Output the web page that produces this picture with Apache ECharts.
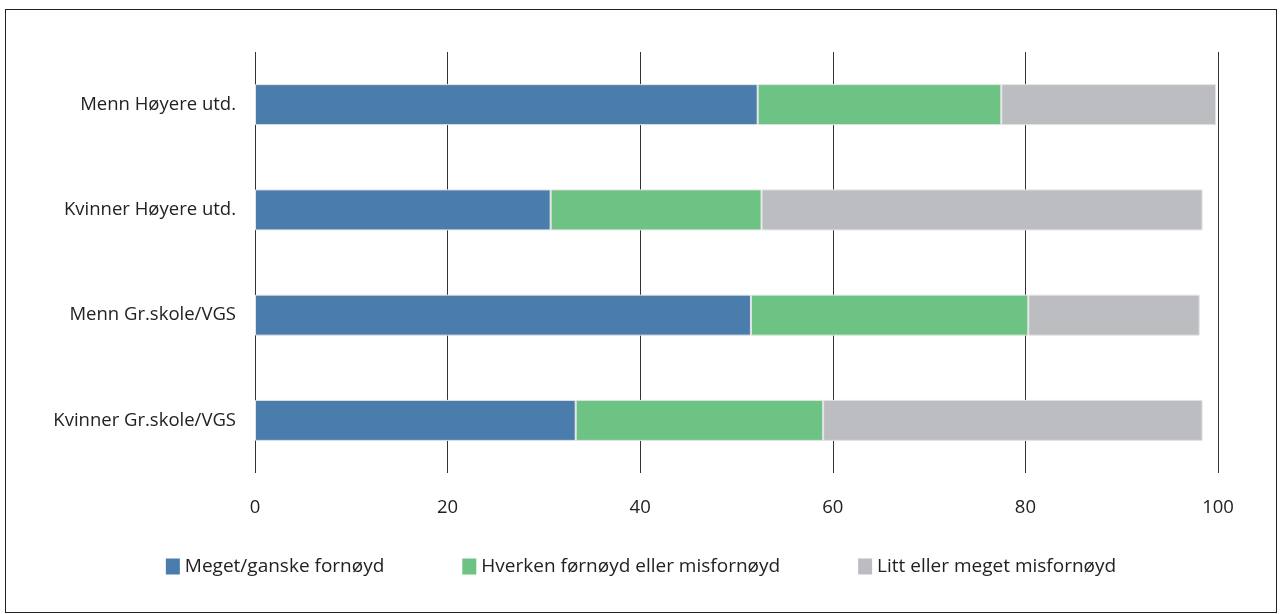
<!DOCTYPE html>
<html>
<head>
<meta charset="utf-8">
<script src="https://cdn.jsdelivr.net/npm/echarts@6/dist/echarts.min.js"></script>
<style>
  html, body { margin: 0; padding: 0; background: #fff; }
  #frame { position: absolute; left: 5px; top: 9px; width: 1272px; height: 604px; border: 1px solid #222; box-sizing: border-box; }
  #chart { position: absolute; left: 0; top: 0; width: 1282px; height: 614px; }
</style>
</head>
<body>
<div id="frame"></div>
<div id="chart"></div>
<script>
// groups, top to bottom
const categories = ['Menn Høyere utd.', 'Kvinner Høyere utd.', 'Menn Gr.skole/VGS', 'Kvinner Gr.skole/VGS']
const seriesNames = ['Meget/ganske fornøyd', 'Hverken førnøyd eller misfornøyd', 'Litt eller meget misfornøyd']
const fornoyd = [52.2, 30.7, 51.5, 33.3]
const hverken = [25.3, 21.9, 28.8, 25.7]
const misfornoyd = [22.3, 45.8, 17.8, 39.4]
const xTicks = [0, 20, 40, 60, 80, 100]
const colors = ['#4a7dab', '#6dc383', '#bcbdc1']

const font = '"Open Sans", Lato, sans-serif'
const chart = echarts.init(document.getElementById('chart'))

const values = [fornoyd, hverken, misfornoyd]
chart.setOption({
  animation: false,
  textStyle: { fontFamily: font },
  grid: { left: 255, right: 64, top: 52, bottom: 141 },
  legend: {
    bottom: 33,
    left: 'center',
    itemWidth: 14,
    itemHeight: 16,
    itemGap: 78,
    icon: 'rect',
    itemStyle: { borderWidth: 0 },
    textStyle: { fontSize: 19, color: '#222', fontFamily: font },
    data: seriesNames
  },
  xAxis: {
    type: 'value',
    min: xTicks[0],
    max: xTicks[xTicks.length - 1],
    interval: 20,
    axisLine: { show: false },
    axisTick: { show: false },
    axisLabel: { fontSize: 18.5, color: '#222', margin: 25 },
    splitLine: { show: true, lineStyle: { color: '#333', width: 1 } }
  },
  yAxis: {
    type: 'category',
    inverse: true,
    data: categories,
    axisLine: { show: false },
    axisTick: { show: false },
    axisLabel: { fontSize: 18.5, color: '#222', margin: 19 }
  },
  series: seriesNames.map((name, i) => ({
    name: name,
    type: 'bar',
    stack: 'total',
    barWidth: 41,
    data: values[i],
    itemStyle: { color: colors[i], borderColor: '#e4e4e4', borderWidth: 1 }
  }))
})
</script>
</body>
</html>
